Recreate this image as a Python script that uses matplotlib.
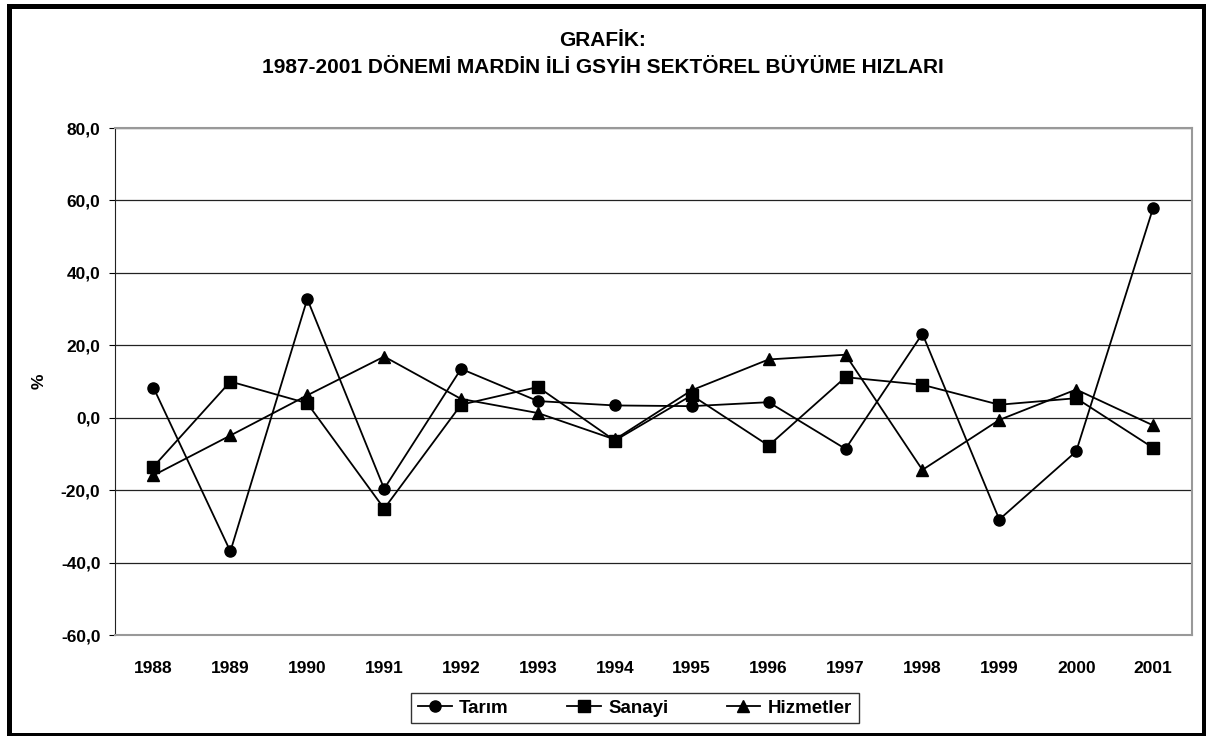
import matplotlib.pyplot as plt
from matplotlib.patches import Rectangle

plt.rcParams['font.family'] = ['Liberation Sans', 'DejaVu Sans']
plt.rcParams['font.weight'] = 'bold'

years = ['1988', '1989', '1990', '1991', '1992', '1993', '1994',
         '1995', '1996', '1997', '1998', '1999', '2000', '2001']
tarim = [8.3, -36.9, 32.8, -19.6, 13.5, 4.6, 3.4, 3.2, 4.3, -8.6, 23.2, -28.1, -9.3, 57.9]
sanayi = [-13.5, 10.0, 4.0, -25.1, 3.6, 8.5, -6.3, 6.2, -7.7, 11.2, 9.1, 3.6, 5.4, -8.3]
hizmetler = [-15.9, -4.9, 6.2, 16.9, 5.2, 1.3, -6.0, 7.6, 16.1, 17.4, -14.4, -0.6, 7.8, -2.1]

fig = plt.figure(figsize=(12.06, 7.36), dpi=100)
ax = fig.add_axes([0.0954, 0.1372, 0.8926, 0.6888])

x = range(len(years))
ax.plot(x, tarim, 'k-o', lw=1.3, ms=8, label='Tarım')
ax.plot(x, sanayi, 'k-s', lw=1.3, ms=8, label='Sanayi')
ax.plot(x, hizmetler, 'k-^', lw=1.3, ms=8, label='Hizmetler')

ax.set_xlim(-0.5, len(years) - 0.5)
ax.set_ylim(-60, 80)
ax.set_yticks(range(-60, 81, 20))
ax.set_yticklabels([f'{v:.1f}'.replace('.', ',') for v in range(-60, 81, 20)])
ax.set_xticks(list(x))
ax.set_xticklabels(years)
ax.tick_params(axis='x', length=0, pad=19, labelsize=12.5)
ax.tick_params(axis='y', length=4.5, direction='out', pad=6, labelsize=12.5)
ax.yaxis.grid(True, color='#222222', lw=0.9)
ax.set_axisbelow(True)
for s in ['top', 'right', 'bottom']:
    ax.spines[s].set_color('#999999')
    ax.spines[s].set_linewidth(1.5)
ax.spines['left'].set_color('#222222')
ax.set_ylabel('%', fontsize=12.5, fontweight='bold', labelpad=10)

fig.text(0.5, 0.945, 'GRAFİK:', ha='center', va='center', fontsize=15, fontweight='bold')
fig.text(0.5, 0.908, '1987-2001 DÖNEMİ MARDİN İLİ GSYİH SEKTÖREL BÜYÜME HIZLARI',
         ha='center', va='center', fontsize=15, fontweight='bold')

leg = fig.legend(loc='center', bbox_to_anchor=(0.5265, 0.038), ncol=3, fancybox=False,
                 edgecolor='black', fontsize=13.5, handlelength=1.8, columnspacing=3.1,
                 borderpad=0.35, handletextpad=0.4, markerscale=1.0)
leg.get_frame().set_linewidth(1.0)

fig.patches.append(Rectangle((0.00705, 0.0007), 0.99129, 0.9905, transform=fig.transFigure,
                             fill=False, edgecolor='black', lw=3.6))

fig.savefig('out.png', dpi=100)
